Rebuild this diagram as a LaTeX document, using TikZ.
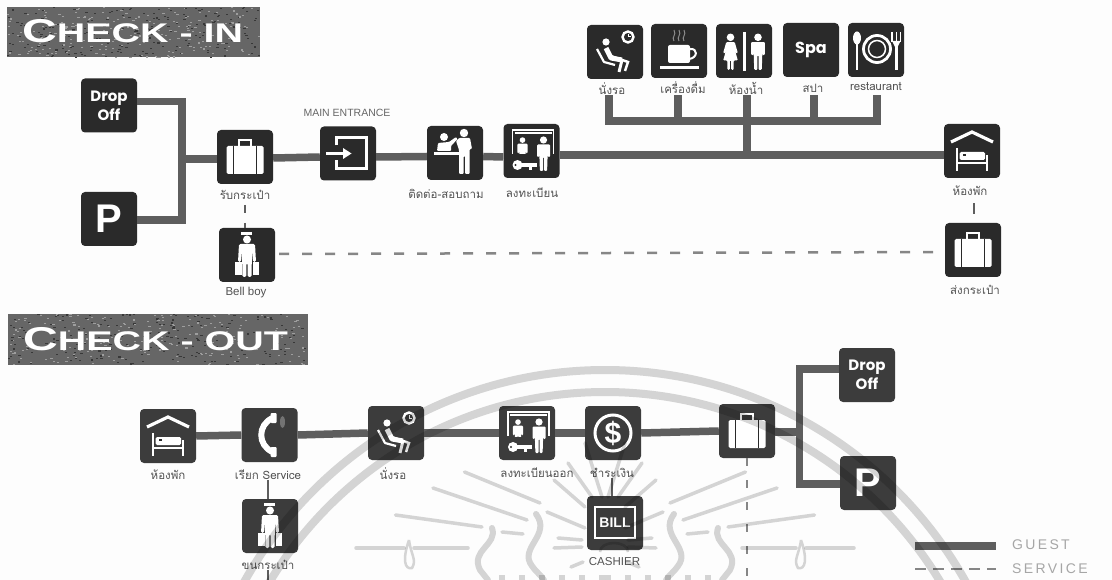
\documentclass[tikz,border=0pt]{standalone}
\usepackage{fontspec}
\usetikzlibrary{calc}
\setmainfont{Liberation Sans}
\newfontfamily\thaifont[Script=Thai]{Loma}
\newfontfamily\popfont{Poppins}
\definecolor{boxA}{HTML}{2A2A2A}
\definecolor{boxB}{HTML}{3C3C3C}
\definecolor{lineC}{HTML}{5E5E5E}
\definecolor{wmark}{HTML}{D6D6D6}
\definecolor{paper}{HTML}{FDFDFD}
\tikzset{
  ibox/.style={fill=boxA,rounded corners=4pt,minimum width=56pt,minimum height=54pt,inner sep=0pt,text=white},
  oboxs/.style={ibox,fill=boxB},
  guest/.style={draw=lineC,line width=7.5pt},
  service/.style={draw=lineC!75,line width=2.5pt,dash pattern=on 10pt off 13pt},
  stub/.style={draw=lineC,line width=2.5pt},
  lab/.style={font=\thaifont\fontsize{11.5}{12}\selectfont,text=black!68,inner sep=0pt},
  wln/.style={draw=white,line width=2.6pt},
  headbox/.style={fill=lineC!95,inner sep=0pt,anchor=north west},
  headtxt/.style={text=white,inner sep=0pt,anchor=base west},
  legendtxt/.style={font=\fontsize{14}{14}\selectfont,text=black!35,inner sep=0pt,anchor=west},
  ray/.style={draw=wmark,line width=3.5pt,line cap=round},
  band/.style={draw=wmark,line width=8pt},
  dropfont/.style={font=\popfont\bfseries\fontsize{15}{19}\selectfont,align=center},
  pfont/.style={font=\bfseries\fontsize{40}{40}\selectfont},
}
\newcommand\manfig[3]{\begin{scope}[shift={(#1,#2)},scale=#3]
  \fill[white] (0,-14) circle (3.6);
  \fill[white,rounded corners=1pt] (-6.5,-9.5)--(6.5,-9.5)--(6.5,3)--(4.3,3)--(4.3,-4)--(3.6,17)--(0.5,17)--(0.5,3)--(-0.5,3)--(-0.5,17)--(-3.6,17)--(-4.3,-4)--(-4.3,3)--(-6.5,3)--cycle;
\end{scope}}
\newcommand\womanfig[3]{\begin{scope}[shift={(#1,#2)},scale=#3]
  \fill[white] (0,-14) circle (3.6);
  \fill[white,rounded corners=1pt] (-4,-9.5)--(4,-9.5)--(7,1)--(5.4,1.5)--(3.5,-4)--(7,8)--(3,8)--(3,17)--(0.7,17)--(0.7,8)--(-0.7,8)--(-0.7,17)--(-3,17)--(-3,8)--(-7,8)--(-3.5,-4)--(-5.4,1.5)--(-7,1)--cycle;
\end{scope}}
\newcommand\icoSuit[1]{\begin{scope}[shift={(#1.center)}]
  \fill[white,rounded corners=1.5pt] (-18.5,-11) rectangle (18.5,17);
  \draw[boxA,line width=1.6pt] (-11.5,-11)--(-11.5,17) (11.5,-11)--(11.5,17);
  \draw[white,line width=2.2pt] (-6,-11)--(-6,-17)--(6,-17)--(6,-11);
\end{scope}}
\newcommand\icoEnt[1]{\begin{scope}[shift={(#1.center)}]
  \draw[wln,line width=3pt] (-12,-8)--(-12,-16)--(18,-16)--(18,15)--(-12,15)--(-12,7);
  \draw[wln,line width=3pt] (-22,0)--(-4,0);
  \fill[white] (-5,-5.5)--(3.5,0)--(-5,5.5)--cycle;
\end{scope}}
\newcommand\icoCnt[1]{\begin{scope}[shift={(#1.center)}]
  \fill[white] (-11,-16) circle (4);
  \fill[white,rounded corners=1pt] (-18,-2)--(-17,-10)--(-6,-11)--(1,-16)--(2.5,-14)--(-4,-7)--(-4,-2)--cycle;
  \fill[white] (-21,-1) rectangle (14,2.5);
  \fill[white] (9,-20) circle (4.2);
  \fill[white,rounded corners=1pt] (1,-12)--(4,-15)--(15,-15)--(17,-4)--(14.5,-4)--(14.5,21)--(10,21)--(10,3)--(8.5,3)--(8.5,21)--(4,21)--(4,-3)--cycle;
\end{scope}}
\newcommand\icoReg[1]{\begin{scope}[shift={(#1.center)}]
  \draw[white,line width=1.3pt] (-19,3)--(-19,-21)--(22,-21)--(22,3);
  \draw[white,line width=2pt] (-17,-18)--(20,-18);
  \begin{scope}
    \clip (-18,-20) rectangle (3,3);
    \manfig{-9}{0}{0.78}
  \end{scope}
  \manfig{12}{3}{1.0}
  \fill[white] (-14,14) circle (5);
  \fill[white] (-14,12) rectangle (5,16);
  \fill[white] (-3,16) rectangle (0,19);
  \fill[boxA] (-16,14) circle (1.2);
\end{scope}}
\newcommand\icoWait[1]{\begin{scope}[shift={(#1.center)}]
  \draw[white,line width=2.4pt] (13,-15) circle (5.5);
  \draw[white,line width=1pt] (13,-18)--(13,-15)--(16,-15);
  \fill[white] (-9,-10) circle (3.6);
  \draw[white,line width=5pt,line join=round] (-9,-4)--(-4,6)--(7,8);
  \draw[white,line width=3pt,line join=round] (7,8)--(4,20);
  \draw[white,line width=2.5pt] (-7,3)--(13,10)--(10,19);
  \draw[white,line width=2.2pt,line join=round] (-18,-3)--(-11,10)--(0,13);
\end{scope}}
\newcommand\icoCof[1]{\begin{scope}[shift={(#1.center)}]
  \fill[white,rounded corners=2pt] (-11,-6) rectangle (11,12);
  \draw[white,line width=2pt] (11,-2) .. controls (19,-3) and (19,7) .. (10,8);
  \fill[white] (-19,15) rectangle (20,18);
  \draw[black!45,line width=1pt] (-5,-10) .. controls (-8,-14) and (-2,-16) .. (-5,-21) (0,-10) .. controls (-3,-14) and (3,-16) .. (0,-21) (5,-10) .. controls (2,-14) and (8,-16) .. (5,-21);
\end{scope}}
\newcommand\icoWC[1]{\begin{scope}[shift={(#1.center)}]
  \womanfig{-13.5}{1}{1.05}
  \fill[white] (-1.2,-19) rectangle (1.8,20);
  \manfig{14}{1}{1.05}
\end{scope}}
\newcommand\icoRest[1]{\begin{scope}[shift={(#1.center)}]
  \fill[white] (-19,-12) ellipse (4 and 6.5);
  \fill[white] (-20,-8) rectangle (-18,20);
  \draw[white,line width=2.8pt] (1,-1) circle (13.5);
  \draw[white,line width=1.5pt] (1,-1) circle (8.5);
  \fill[white] (19,-6) rectangle (21.5,20);
  \draw[white,line width=1.2pt] (16,-18)--(16,-8) (20.2,-18)--(20.2,-8) (24.5,-18)--(24.5,-8);
  \fill[white] (16,-9)--(24.5,-9)--(21.5,-3)--(19,-3)--cycle;
\end{scope}}
\newcommand\icoRoom[1]{\begin{scope}[shift={(#1.center)}]
  \draw[white,line width=3.2pt,line join=miter] (-21,-9)--(0,-19)--(21,-9);
  \draw[white,line width=2.6pt] (-15,-3)--(-15,20) (15,4)--(15,20) (-15,12)--(15,12);
  \fill[white,rounded corners=1.5pt] (-12.5,1) rectangle (13,9);
  \fill[boxA] (-9,3) rectangle (-6,5);
\end{scope}}
\newcommand\icoBell[1]{\begin{scope}[shift={(#1.center)}]
  \fill[white] (-6,-23) rectangle (5,-20);
  \fill[white] (0,-15.5) circle (4);
  \fill[white,rounded corners=1.5pt] (-8,-11)--(8,-11)--(9,7)--(6,7)--(5,-4)--(4.5,22)--(0.6,22)--(0.6,8)--(-0.6,8)--(-0.6,22)--(-4.5,22)--(-5,-4)--(-6,7)--(-9,7)--cycle;
  \fill[white] (-12,7) rectangle (-5.5,20);
  \fill[white] (5.5,7) rectangle (12,20);
\end{scope}}
\newcommand\icoPhone[1]{\begin{scope}[shift={(#1.center)}]
  \draw[white,line width=6pt] (3,-17) .. controls (-12,-10) and (-12,10) .. (3,17);
  \fill[white,rounded corners=1pt] (1,-22) rectangle (7,-12);
  \fill[white,rounded corners=1pt] (1,12) rectangle (7,22);
  \fill[black!55] (13,-13) ellipse (2.5 and 6);
\end{scope}}
\newcommand\icoDollar[1]{\begin{scope}[shift={(#1.center)}]
  \draw[white,line width=3pt] (0,0) circle (18);
  \node[inner sep=0pt,text=white,font=\bfseries\fontsize{30}{30}\selectfont] at (0,0) {\$};
\end{scope}}
\newcommand\icoBill[1]{\begin{scope}[shift={(#1.center)}]
  \draw[white,line width=2.6pt] (-20,-16) rectangle (20,15);
  \node[inner sep=0pt,text=white,font=\bfseries\fontsize{14}{14}\selectfont] at (0,0) {BILL};
\end{scope}}
\newcommand\specks[4]{\pgfmathsetseed{#1}\foreach \i in {1,...,420}{%
  \pgfmathsetmacro\sx{#2+(#3)*rnd}\pgfmathsetmacro\sy{#4+50*rnd}\pgfmathsetmacro\sg{rnd>0.5?38:78}%
  \fill[black!\sg] (\sx,\sy) rectangle ++(2.2,1.1);}}
\begin{document}
\begin{tikzpicture}[x=1pt,y=-1pt]
\fill[paper] (0,0) rectangle (1112,580);
\useasboundingbox (0,0) rectangle (1112,580);
% headers
\node[headbox,minimum width=253pt,minimum height=50pt] (hin) at (7,7) {};
\specks{7}{7}{251}{7}
\node[headtxt] (hintxt) at (22,43) {\scalebox{1.46}[1]{\bfseries\fontsize{33}{33}\selectfont C\fontsize{27}{27}\selectfont HECK - IN}};
\node[headbox,minimum width=300pt,minimum height=51pt] (hout) at (8,314) {};
\specks{11}{8}{298}{314}
\node[headtxt] (houttxt) at (23,351) {\scalebox{1.46}[1]{\bfseries\fontsize{33}{33}\selectfont C\fontsize{27}{27}\selectfont HECK - OUT}};
% check-in boxes
\node[ibox,dropfont] (idrop) at (109,105.5) {Drop\\Off};
\node[ibox,pfont] (ip) at (109,219) {P};
\node[ibox] (isuit) at (245,157) {};
\node[ibox] (ient) at (348,153.5) {};
\node[ibox] (icnt) at (455,153) {};
\node[ibox] (ireg) at (531.5,151) {};
\node[ibox] (ibell) at (247,255) {};
\node[ibox] (iwait) at (615,52) {};
\node[ibox] (icof) at (679,51) {};
\node[ibox] (iwc) at (744,51) {};
\node[ibox,font=\popfont\bfseries\fontsize{16}{16}\selectfont] (ispa) at (811,50) {Spa};
\node[ibox] (irest) at (876,50) {};
\node[ibox] (iroom) at (972,151) {};
\node[ibox] (ilug) at (973,250) {};
% check-in labels
\node[lab] (l1) at (245,195) {รับกระเป๋า};
\node[lab,font=\fontsize{10.5}{11}\selectfont,text=black!60] (l2) at (347,113) {MAIN ENTRANCE};
\node[lab] (l3) at (446,194) {ติดต่อ-สอบถาม};
\node[lab] (l4) at (532,193) {ลงทะเบียน};
\node[lab,font=\fontsize{11.5}{12}\selectfont] (l5) at (246,293) {Bell boy};
\node[lab] (l6) at (612,89) {นั่งรอ};
\node[lab] (l7) at (683,88) {เครื่องดื่ม};
\node[lab] (l8) at (746,88) {ห้องน้ำ};
\node[lab] (l9) at (813,88) {สปา};
\node[lab] (l10) at (876,87) {restaurant};
\node[lab] (l11) at (970,191) {ห้องพัก};
\node[lab] (l12) at (975,290) {ส่งกระเป๋า};
% check-in connectors
\coordinate (ivt) at (182,101.5);
\coordinate (ivb) at (182,220);
\coordinate (ivm) at (182,159);
\coordinate (imain) at (747,155);
\coordinate (busl) at (605,121);
\coordinate (busr) at (881,121);
\draw[guest] (idrop.east |- ivt) -- (ivt) -- (ivb) -- (ip.east |- ivb);
\draw[guest] (ivm) -- (isuit.west |- ivm);
\draw[guest] ([yshift=-1pt]isuit.east) -- ([yshift=-3.5pt]ient.west);
\draw[guest] ([yshift=-3.5pt]ient.east) -- ([yshift=-3.5pt]icnt.west);
\draw[guest] ([yshift=-3.5pt]icnt.east) -- ([yshift=-6pt]ireg.west);
\draw[guest] ([yshift=-4pt]ireg.east) -- (imain) -- ([yshift=-4pt]iroom.west);
\draw[guest] (imain) -- (imain |- busl);
\draw[guest] (busl) -- (busr);
\coordinate (st1) at (609,121); \coordinate (st2) at (678,121); \coordinate (st3) at (747,121); \coordinate (st4) at (814,121); \coordinate (st5) at (877,121);
\draw[guest] (st1) -- (st1 |- l6.south);
\draw[guest] (st2) -- (st2 |- l6.south);
\draw[guest] (st3) -- (st3 |- l6.south);
\draw[guest] (st4) -- (st4 |- l6.south);
\draw[guest] (st5) -- (st5 |- l6.south);
\draw[service] ([shift={(4pt,1pt)}]ibell.east) -- ([shift={(-3pt,-2pt)}]ilug.west);
\draw[stub,dash pattern=on 8pt off 10pt] ([yshift=-5pt]l1.south) -- (ibell.north -| l1.south);
\draw[stub,dash pattern=on 11pt off 1pt] ([shift={(4pt,-7pt)}]l11.south) -- ([shift={(4pt,9pt)}]ilug.north -| l11.south);
% check-out boxes
\node[oboxs] (oroom) at (168,436) {};
\node[oboxs] (ophone) at (269.5,435) {};
\node[oboxs] (owait) at (396,433) {};
\node[oboxs] (oreg) at (527,433) {};
\node[oboxs] (odol) at (613,433) {};
\node[oboxs] (obill) at (615,523) {};
\node[oboxs] (obell) at (270,526) {};
\node[oboxs] (olug) at (747,431) {};
\node[oboxs,dropfont] (odrop) at (867,375) {Drop\\Off};
\node[oboxs,pfont] (op) at (868,483) {P};
% check-out labels
\node[lab] (m1) at (168,475) {ห้องพัก};
\node[lab] (m2) at (268,475) {เรียก Service};
\node[lab] (m3) at (393,474) {นั่งรอ};
\node[lab] (m4) at (537,473) {ลงทะเบียนออก};
\node[lab] (m5) at (612,473) {ชำระเงิน};
\node[lab,font=\fontsize{11.5}{12}\selectfont] (m6) at (614.5,562) {CASHIER};
\node[lab] (m7) at (268,565) {ขนกระเป๋า};
% check-out connectors
\coordinate (ovt) at (799.5,369);
\coordinate (ovb) at (799.5,484);
\coordinate (ovm) at (799.5,432);
\draw[guest] (odrop.west |- ovt) -- (ovt) -- (ovb) -- (op.west |- ovb);
\draw[guest] (olug.east |- ovm) -- (ovm);
\draw[guest] (oroom.east) -- (ophone.west);
\draw[guest] (ophone.east) -- (owait.west);
\draw[guest] (owait.east) -- (oreg.west);
\draw[guest] (oreg.east) -- (odol.west);
\draw[guest] (odol.east) -- (olug.west);
\coordinate (olugend) at (746.6,582);
\draw[service,line width=2pt,dash pattern=on 8pt off 14pt] (olug.south -| olugend) -- (olugend);
\draw[stub,line width=2pt] (m2.south) -- (obell.north -| m2.south);
\coordinate (m7end) at (268,580);
\draw[stub,line width=2pt] (m7.south) -- (m7end);
\draw[stub,line width=2pt] (m5.south) -- (obill.north -| m5.south);
% icons
\icoSuit{isuit}\icoEnt{ient}\icoCnt{icnt}\icoReg{ireg}\icoBell{ibell}
\icoWait{iwait}\icoCof{icof}\icoWC{iwc}\icoRest{irest}\icoRoom{iroom}\icoSuit{ilug}
\icoRoom{oroom}\icoPhone{ophone}\icoWait{owait}\icoReg{oreg}\icoDollar{odol}\icoBill{obill}\icoBell{obell}\icoSuit{olug}
% legend
\coordinate (lg1) at (915,546); \coordinate (lg2) at (996,546);
\coordinate (ls1) at (915,569); \coordinate (ls2) at (996,569);
\draw[guest] (lg1) -- (lg2);
\draw[service,line width=2pt,dash pattern=on 11pt off 7pt] (ls1) -- (ls2);
\node[legendtxt] (lgt) at (1012,545) {G\,U\,E\,S\,T};
\node[legendtxt] (lst) at (1012,569) {S\,E\,R\,V\,I\,C\,E};
% watermark
\begin{scope}[blend mode=multiply]
\draw[band] (605,783) circle (413);
\draw[band] (605,783) circle (391);
\foreach \a/\b/\c/\d in {395.5/515/482/527,433/488/527/520,464.5/472/540/503,502/532/523/534,547/512/585/528,554/480/585/507,568/463/592/497,585/443/602/497,558/538/582/540,554/548/582/547,571/567/583/562,356/548/404/548,414/548/468/548}{
  \draw[ray] (\a,\b)--(\c,\d);
  \draw[ray] (1210-\a,\b)--(1210-\c,\d);
}
\foreach \m in {0,1}{
 \begin{scope}[shift={(\m*1210,0)},xscale=1-2*\m]
  \draw[draw=wmark,line width=6pt,line cap=round] (536,514) .. controls (552,535) and (518,548) .. (532,566) .. controls (536,572) and (540,574) .. (544,580);
  \draw[draw=wmark,line width=6pt,line cap=round] (492,528) .. controls (498,545) and (470,550) .. (480,570) -- (488,580);
  \draw[draw=wmark,line width=2.5pt] (409,540) .. controls (411,555) and (417,560) .. (412,568) .. controls (405,570) and (402,560) .. (409,540);
  \draw[draw=wmark,line width=5pt,dash pattern=on 6pt off 14pt] (605,577)--(485,577);
 \end{scope}
}
\draw[draw=wmark,line width=2.5pt] (600,552) .. controls (600,540) and (628,540) .. (628,552);
\end{scope}
\end{tikzpicture}
\end{document}
